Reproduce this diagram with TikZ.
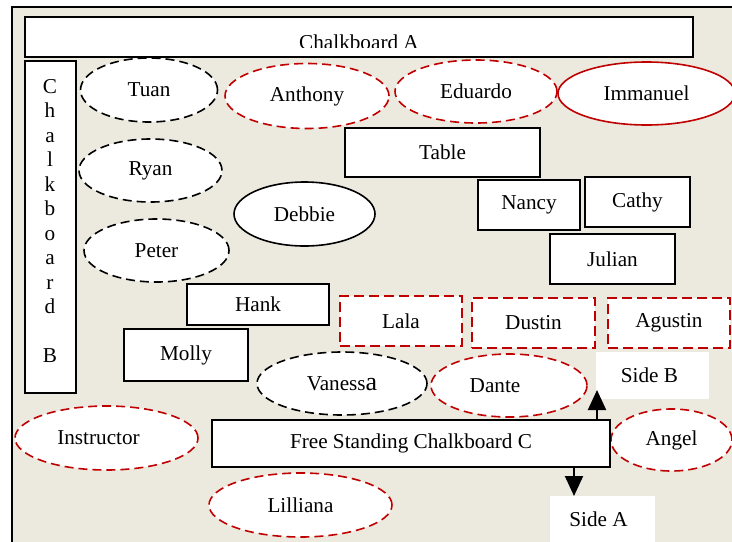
\documentclass[tikz,border=0pt]{standalone}
\usepackage{fontspec}
\setmainfont{Liberation Serif}
\usepackage{tikz}
\usetikzlibrary{shapes.geometric,arrows.meta}
\definecolor{roomtan}{RGB}{236,233,223}
\definecolor{seatred}{RGB}{192,0,0}
\tikzset{
  board/.style={draw=black,fill=white,line width=1pt,inner sep=0pt},
  seat/.style={ellipse,draw=black,fill=white,line width=0.8pt,inner sep=0pt},
  seatdash/.style={seat,dash pattern=on 4.5pt off 2.5pt},
  redseat/.style={seatdash,draw=seatred},
  redbox/.style={board,draw=seatred,dash pattern=on 5pt off 2.5pt},
  sidebox/.style={fill=white,inner sep=0pt},
  sidearrow/.style={line width=1pt,-{Triangle[width=9pt,length=10pt]}}
}

\begin{document}
\begin{tikzpicture}[x=0.5pt,y=-0.5pt,thick,font=\fontsize{10.6}{12}\selectfont]
\useasboundingbox (0,0) rectangle (732,541);
\clip (0,0) rectangle (732,541);
\fill[white] (0,0) rectangle (732,541);
\draw[fill=roomtan,line width=1pt] (12,7) rectangle (760,570);

\node[board,minimum width=334pt,minimum height=20pt] (chalkA) at (359,37) {};
\begin{scope}
\clip (25,17) rectangle (693,47);
\node[anchor=base,inner sep=0pt] (chalkAtxt) at (359,49) {Chalkboard A};
\end{scope}

\node[board,minimum width=25.5pt,minimum height=166pt] (chalkB) at (50.5,227) {};
\node[align=center,inner sep=0pt,font=\fontsize{10.6}{12.25}\selectfont] (chalkBtxt) at (50,221)
  {C\\h\\a\\l\\k\\b\\o\\a\\r\\d\\[12.25pt]B};

\node[seatdash,minimum width=68.5pt,minimum height=32pt] (tuan) at (149,90) {Tuan};
\node[redseat,minimum width=82pt,minimum height=32.5pt] (anthony) at (307,96) {Anthony};
\node[redseat,minimum width=81pt,minimum height=31.5pt] (eduardo) at (476,91.5) {Eduardo};
\node[seat,draw=seatred,minimum width=88.5pt,minimum height=31.5pt] (immanuel) at (646.5,93.5) {Immanuel};
\node[seatdash,minimum width=71.5pt,minimum height=31.5pt] (ryan) at (150.5,170.5) {Ryan};
\node[seat,minimum width=70.5pt,minimum height=32pt] (debbie) at (304.5,214) {Debbie};
\node[seatdash,minimum width=72.5pt,minimum height=31.5pt] (peter) at (156.5,250.5) {Peter};

\node[board,minimum width=97.5pt,minimum height=24.5pt] (table) at (442.5,152.5) {Table};
\node[board,minimum width=51pt,minimum height=25pt] (nancy) at (529,205) {Nancy};
\node[board,minimum width=52.5pt,minimum height=25pt] (cathy) at (637.5,202) {Cathy};
\node[board,minimum width=62.5pt,minimum height=25pt] (julian) at (612.5,259) {Julian};
\node[board,minimum width=71pt,minimum height=20.5pt] (hank) at (258,304.5) {Hank};
\node[board,minimum width=62pt,minimum height=26pt] (molly) at (186,355) {Molly};

\node[redbox,minimum width=61pt,minimum height=25pt] (lala) at (401,321) {Lala};
\node[redbox,minimum width=61.5pt,minimum height=25pt] (dustin) at (533.5,323) {Dustin};
\node[redbox,minimum width=61pt,minimum height=25pt] (agustin) at (669,323) {Agustin};

\node[seatdash,minimum width=85pt,minimum height=31.5pt] (vanessa) at (342,383.5) {Vaness{\fontsize{13}{14}\selectfont a}};
\node[redseat,minimum width=78pt,minimum height=31.5pt] (dante) at (509,385.5) {\hspace*{-14pt}Dante};
\node[sidebox,minimum width=56.5pt,minimum height=23.5pt] (sideB) at (652.5,375.5) {\hspace*{-3pt}Side B};
\node[redseat,minimum width=60.5pt,minimum height=31pt] (angel) at (671.5,440) {Angel};
\node[redseat,minimum width=91.5pt,minimum height=32pt] (instructor) at (106.5,438) {\hspace*{-8pt}Instructor};

\node[board,minimum width=199pt,minimum height=23.5pt] (freeC) at (411,443.5) {Free Standing Chalkboard C};
\node[redseat,minimum width=91.5pt,minimum height=32pt] (lilliana) at (300.5,505) {Lilliana};
\node[sidebox,minimum width=52.5pt,minimum height=23pt] (sideA) at (602.5,519) {\hspace*{-4pt}Side A};

\coordinate (tipB) at (597,390);
\coordinate (tipA) at (574,496);
\draw[sidearrow] (freeC.north -| tipB) -- (tipB);
\draw[sidearrow] (freeC.south -| tipA) -- (tipA);
\end{tikzpicture}
\end{document}
